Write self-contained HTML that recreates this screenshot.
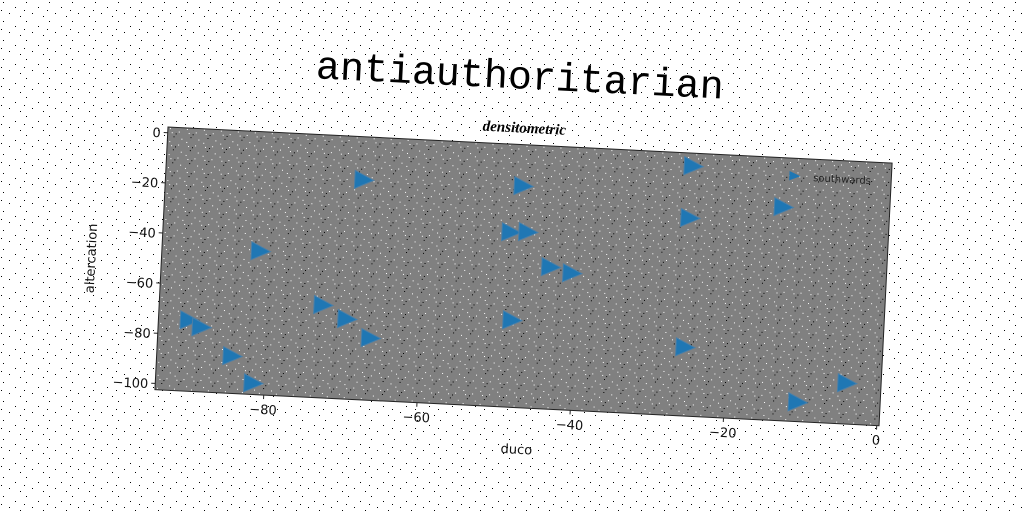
<!DOCTYPE html>
<html><head><meta charset="utf-8">
<style>
html,body{margin:0;padding:0;background:#fff;}
svg{display:block;}
text{font-family:"DejaVu Sans","Liberation Sans",sans-serif;}
</style></head>
<body>
<svg id="chart" width="1024" height="512" viewBox="0 0 1024 512" xmlns="http://www.w3.org/2000/svg">
<defs>
<pattern id="bgnoise" width="23" height="19" patternUnits="userSpaceOnUse">
<rect x="3" y="2" width="1" height="1" fill="#000"/><rect x="15" y="7" width="1" height="1" fill="#000"/>
<rect x="9" y="13" width="1" height="1" fill="#000"/><rect x="20" y="16" width="1" height="1" fill="#000"/>
<rect x="1" y="10" width="1" height="1" fill="#000"/>
</pattern>
<pattern id="plotnoise" width="17" height="13" patternUnits="userSpaceOnUse">
<rect width="17" height="13" fill="#808080"/>
<rect x="2" y="1" width="1" height="1" fill="#fff"/><rect x="11" y="4" width="1" height="1" fill="#fff"/>
<rect x="6" y="9" width="1" height="1" fill="#000"/><rect x="14" y="11" width="1" height="1" fill="#fff"/>
<rect x="8" y="6" width="1" height="1" fill="#000"/><rect x="4" y="5" width="1" height="1" fill="#fff"/>
</pattern>
</defs>
<rect width="1024" height="512" fill="url(#bgnoise)"/>
<g id="frame" transform="translate(168,127) rotate(2.85)">
<text x="349" y="-56" font-size="40" text-anchor="middle" style="font-family:'Liberation Mono',monospace" fill="#000">antiauthoritarian</text>
<text x="356" y="-12" font-size="15" text-anchor="middle" font-style="italic" font-weight="bold" style="font-family:'Liberation Serif',serif" fill="#000">densitometric</text>
<rect x="0" y="0" width="725" height="263" fill="url(#plotnoise)" stroke="#222" stroke-width="1"/>
<g id="xticks"></g>
<g id="yticks"></g>
<g id="marks"></g>
<text x="364" y="309" font-size="13" text-anchor="middle" fill="#111">duco</text>
<text transform="translate(-66,135) rotate(-90)" font-size="13" text-anchor="middle" fill="#111">altercation</text>
<g>
<path d="M623,13 L634,17.7 L623,22.4 Z" fill="#1f77b4"/>
<text x="647" y="22" font-size="10" fill="#222">southwards</text>
</g>
</g>
</svg>
<script>
const xTicks=[-80,-60,-40,-20,0];
const yTicks=[0,-20,-40,-60,-80,-100];
const xs=[-90.3,-88.7,-84.5,-81.6,-81.5,-73.0,-69.8,-66.6,-68.5,-48.3,-49.0,-46.8,-47.7,-43.6,-40.8,-25.7,-25.8,-25.6,-13.7,-10.6,-4.3];
const ys=[-74.2,-76.7,-87.6,-98.0,-45.3,-65.5,-70.6,-77.7,-14.9,-67.8,-32.8,-32.4,-14.2,-45.9,-47.9,-2.9,-23.6,-75.1,-17.4,-94.8,-86.2];
const X0=-94.2,X1=0.3,Y0=-102.5,Y1=2.27,W=725,H=263;
const sx=v=>(v-X0)/(X1-X0)*W;
const sy=v=>H-(v-Y0)/(Y1-Y0)*H;
const NS="http://www.w3.org/2000/svg";
const xg=document.getElementById('xticks'),yg=document.getElementById('yticks'),mg=document.getElementById('marks');
xTicks.forEach(t=>{
 const l=document.createElementNS(NS,'line');
 l.setAttribute('x1',sx(t));l.setAttribute('x2',sx(t));l.setAttribute('y1',H);l.setAttribute('y2',H+4);l.setAttribute('stroke','#222');
 
 
 xg.appendChild(l);
 const tx=document.createElementNS(NS,'text');
 tx.setAttribute('x',sx(t));tx.setAttribute('y',H+19);tx.setAttribute('font-size','13');tx.setAttribute('text-anchor','middle');tx.setAttribute('fill','#111');
 tx.textContent=t===0?'0':'\u2212'+Math.abs(t);
 
 
 xg.appendChild(tx);
});
yTicks.forEach(t=>{
 const l=document.createElementNS(NS,'line');
 l.setAttribute('x1',-4);l.setAttribute('x2',0);l.setAttribute('y1',sy(t));l.setAttribute('y2',sy(t));l.setAttribute('stroke','#222');
 
 
 yg.appendChild(l);
 const tx=document.createElementNS(NS,'text');
 tx.setAttribute('x',-7);tx.setAttribute('y',sy(t)+5);tx.setAttribute('font-size','13');tx.setAttribute('text-anchor','end');tx.setAttribute('fill','#111');
 tx.textContent=t===0?'0':'\u2212'+Math.abs(t);
 
 
 yg.appendChild(tx);
});
xs.forEach((v,i)=>{
 const cx=sx(v),cy=sy(ys[i]);
 const p=document.createElementNS(NS,'path');
 p.setAttribute('d',`M${cx-8},${cy-9} L${cx+11},${cy} L${cx-8},${cy+9} Z`);
 p.setAttribute('fill','#1f77b4');p.setAttribute('stroke','#4a7fa8');p.setAttribute('stroke-width','1');
 
 
 mg.appendChild(p);
});
</script>
</body></html>
